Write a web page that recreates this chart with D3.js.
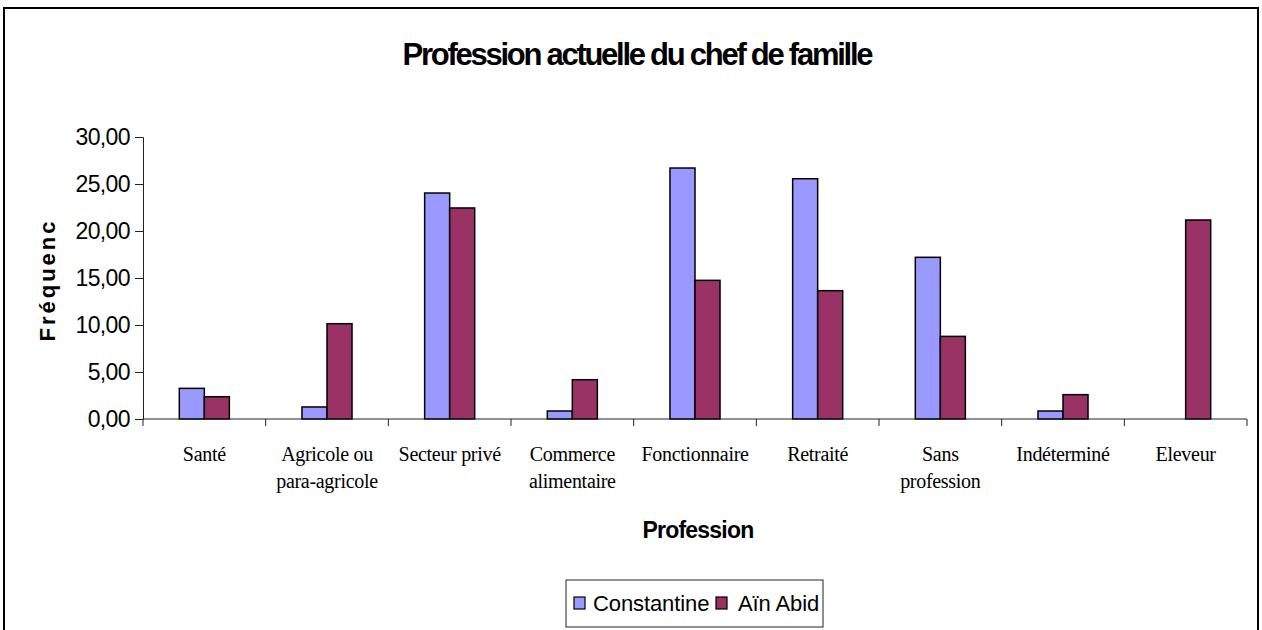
<!DOCTYPE html>
<html>
<head>
<meta charset="utf-8">
<script src="https://cdn.jsdelivr.net/npm/d3@7"></script>
<style>
body { margin: 0; background: #fff; }
</style>
</head>
<body>
<svg width="1262" height="630"></svg>
<script>
var svg = d3.select('svg');

// data
var categories = [
	["Santé"],
	["Agricole ou", "para-agricole"],
	["Secteur privé"],
	["Commerce", "alimentaire"],
	["Fonctionnaire"],
	["Retraité"],
	["Sans", "profession"],
	["Indéterminé"],
	["Eleveur"]
]
var seriesNames = ["Constantine", "Aïn Abid"]
var constantine = [3.26, 1.28, 24.04, 0.85, 26.70, 25.56, 17.20, 0.85, 0]
var ainAbid = [2.37, 10.14, 22.45, 4.18, 14.75, 13.65, 8.79, 2.59, 21.17]
var yTicks = [0, 5, 10, 15, 20, 25, 30]
var colors = ["#9999FF", "#993366"]

var plotLeft = 143, plotRight = 1247, plotTop = 137, plotBottom = 419

//outer frame
svg.append('rect')
	.attr('x', 4).attr('y', 8)
	.attr('width', 1254).attr('height', 640)
	.attr('fill', 'none')
	.attr('stroke', 'black')
	.attr('stroke-width', 2)

svg.append('text')
	.text('Profession actuelle du chef de famille')
	.attr('x', 638).attr('y', 65)
	.attr('text-anchor', 'middle')
	.attr('font-family', 'Liberation Sans, Arial')
	.attr('font-weight', 'bold')
	.attr('font-size', 31)
	.attr('textLength', 471)
	.attr('lengthAdjust', 'spacing')

var x0 = d3.scaleBand()
	.domain(d3.range(categories.length))
	.range([plotLeft, plotRight])
var bw = x0.bandwidth()
var x1 = d3.scaleBand()
	.domain(seriesNames)
	.range([bw / 2 - bw * 0.204, bw / 2 + bw * 0.204])
var y = d3.scaleLinear().domain([0, 30]).range([plotBottom, plotTop])

var values = [constantine, ainAbid]

//bars
values.forEach(function(vals, s) {
	var pts = vals.map(function(v, i) { return {i: i, v: v} })
		.filter(function(d) { return d.v > 0 })
	svg.append('g')
		.selectAll('rect')
		.data(pts)
		.enter()
		.append('rect')
		.attr('x', function(d) { return x0(d.i) + x1(seriesNames[s]) })
		.attr('y', function(d) { return y(d.v) })
		.attr('width', x1.bandwidth())
		.attr('height', function(d) { return plotBottom - y(d.v) })
		.attr('fill', colors[s])
		.attr('stroke', 'black')
		.attr('stroke-width', 1.5)
})

//y axis
var yAxis = svg.append('g')
	.attr('transform', 'translate(' + plotLeft + ',0)')
	.call(d3.axisLeft(y).tickValues(yTicks).tickSize(8).tickPadding(5)
		.tickFormat(function(d) { return d3.format('.2f')(d).replace('.', ',') }))
yAxis.select('.domain').attr('stroke', '#222')
yAxis.selectAll('line').attr('stroke', '#222')
yAxis.selectAll('text')
	.attr('font-family', 'Liberation Sans, Arial')
	.attr('font-size', 23)
	.attr('letter-spacing', -0.6)
	.attr('fill', 'black')

//x axis
var xAxis = svg.append('g')
	.attr('transform', 'translate(0,' + plotBottom + ')')
xAxis.append('line')
	.attr('x1', plotLeft).attr('x2', plotRight)
	.attr('stroke', '#222')
xAxis.selectAll('.tick')
	.data(d3.range(categories.length + 1))
	.enter()
	.append('line')
	.attr('x1', function(d) { return plotLeft + d * bw })
	.attr('x2', function(d) { return plotLeft + d * bw })
	.attr('y1', 0).attr('y2', 7)
	.attr('stroke', '#222')

var labels = svg.append('g')
	.selectAll('text')
	.data(categories)
	.enter()
	.append('text')
	.attr('x', function(d, i) { return x0(i) + bw / 2 })
	.attr('y', 461)
	.attr('text-anchor', 'middle')
	.attr('font-family', 'Liberation Serif, Times New Roman')
	.attr('font-size', 20)
	.attr('letter-spacing', -0.3)
labels.selectAll('tspan')
	.data(function(d) { return d })
	.enter()
	.append('tspan')
	.attr('x', function() { return d3.select(this.parentNode).attr('x') })
	.attr('dy', function(d, i) { return i == 0 ? 0 : 27 })
	.text(function(d) { return d })

//axis titles
svg.append('text')
	.text('Profession')
	.attr('x', 698).attr('y', 538)
	.attr('text-anchor', 'middle')
	.attr('font-family', 'Liberation Sans, Arial')
	.attr('font-weight', 'bold')
	.attr('font-size', 23)
	.attr('letter-spacing', -0.8)

svg.append('text')
	.text('Fréquenc')
	.attr('transform', 'translate(55,280) rotate(-90)')
	.attr('text-anchor', 'middle')
	.attr('font-family', 'Liberation Sans, Arial')
	.attr('font-weight', 'bold')
	.attr('font-size', 22)
	.attr('letter-spacing', 3)

//legend
var legend = svg.append('g')
legend.append('rect')
	.attr('x', 566).attr('y', 580)
	.attr('width', 257).attr('height', 47)
	.attr('fill', 'white')
	.attr('stroke', '#222')
	.attr('stroke-width', 1)
var legendX = [574, 716]
seriesNames.forEach(function(name, s) {
	legend.append('rect')
		.attr('x', legendX[s]).attr('y', 597)
		.attr('width', 11).attr('height', 12)
		.attr('fill', colors[s])
		.attr('stroke', 'black')
		.attr('stroke-width', 1.2)
	legend.append('text')
		.text(name)
		.attr('x', legendX[s] + (s == 0 ? 19 : 22))
		.attr('y', 611)
		.attr('font-family', 'Liberation Sans, Arial')
		.attr('font-size', 22)
		.attr('letter-spacing', -0.1)
})
</script>
</body>
</html>
